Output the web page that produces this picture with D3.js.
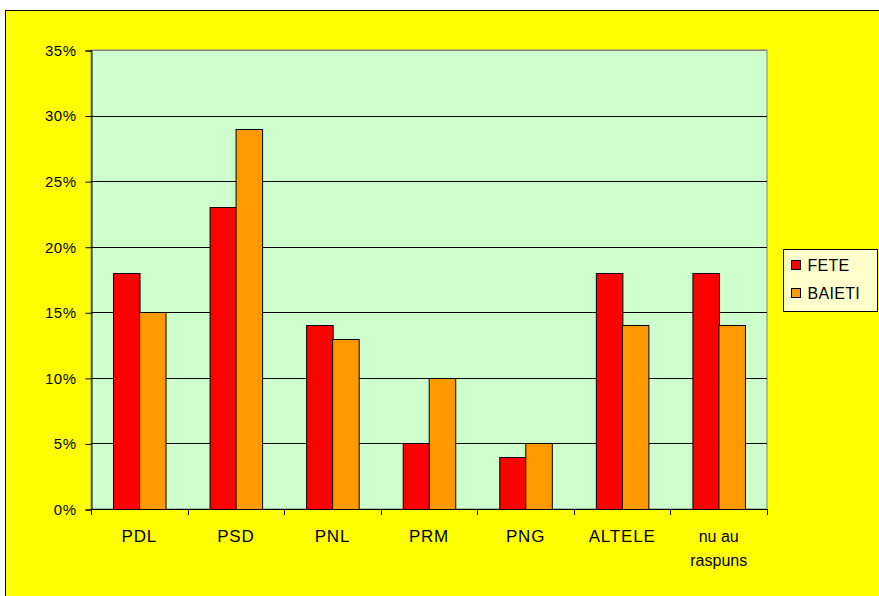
<!DOCTYPE html>
<html>
<head>
<meta charset="utf-8">
<script src="https://cdn.jsdelivr.net/npm/d3@7"></script>
<style>
  body { margin: 0; background: #fff; }
  svg { display: block; font-family: Arial, "Liberation Sans", sans-serif; }
</style>
</head>
<body>
<div id="chart"></div>
<script>
// data
const categories = ['PDL', 'PSD', 'PNL', 'PRM', 'PNG', 'ALTELE', 'nu au raspuns']
const fete = [18, 23, 14, 5, 4, 18, 18]
const baieti = [15, 29, 13, 10, 5, 14, 14]
const seriesNames = ['FETE', 'BAIETI']
const yTicks = [0, 5, 10, 15, 20, 25, 30, 35]

const colors = ['#FF0000', '#FF9900']
const W = 879, H = 596
const m = { left: 91, top: 50, right: 767, bottom: 509 }

const svg = d3.select('#chart').append('svg')
  .attr('width', W)
  .attr('height', H)

// chart frame
svg.append('rect')
  .attr('x', 5.5).attr('y', 10.5)
  .attr('width', W + 10).attr('height', H + 10)
  .attr('fill', '#FFFF00')
  .attr('stroke', '#000')

const x = d3.scaleBand().domain(categories).range([m.left, m.right])
const x1 = d3.scaleBand().domain(seriesNames).range([0, x.bandwidth()]).paddingOuter(0.82)
const y = d3.scaleLinear().domain([0, 35]).range([m.bottom, m.top])

// plot area
svg.append('rect')
  .attr('x', m.left).attr('y', m.top)
  .attr('width', m.right - m.left).attr('height', m.bottom - m.top)
  .attr('fill', '#CCFFCC')
  .attr('stroke', '#808080')

// grid lines
svg.append('g').selectAll('line')
  .data(yTicks.filter(d => d > 0))
  .enter().append('line')
  .attr('x1', m.left).attr('x2', m.right)
  .attr('y1', d => Math.round(y(d)) + 0.5)
  .attr('y2', d => Math.round(y(d)) + 0.5)
  .attr('stroke', d => d === 35 ? '#808080' : '#000')

// bars
const rows = categories.map((c, i) => ({ cat: c, vals: [fete[i], baieti[i]] }))
const groups = svg.append('g').selectAll('g')
  .data(rows)
  .enter().append('g')
  .attr('transform', d => 'translate(' + x(d.cat) + ',0)')

groups.selectAll('rect')
  .data(d => d.vals.map((v, i) => ({ name: seriesNames[i], v: v, i: i })))
  .enter().append('rect')
  .attr('x', d => Math.round(x1(d.name)) + 0.5)
  .attr('y', d => Math.round(y(d.v)) + 0.5)
  .attr('width', x1.bandwidth())
  .attr('height', d => m.bottom - Math.round(y(d.v)))
  .attr('fill', d => colors[d.i])
  .attr('stroke', '#000')
  .attr('stroke-width', 1)

// y axis
const yAxis = d3.axisLeft(y)
  .tickValues(yTicks)
  .tickSize(6)
  .tickPadding(9)
  .tickFormat(d => d + '%')
const gy = svg.append('g')
  .attr('transform', 'translate(' + (m.left + 0.5) + ',0.5)')
  .call(yAxis)
gy.select('.domain').attr('stroke', '#000')
gy.selectAll('text').attr('font-size', 15).attr('fill', '#000').attr('letter-spacing', 0.5)

// x axis line + ticks at category edges
const gx = svg.append('g')
gx.append('line')
  .attr('x1', m.left).attr('x2', m.right)
  .attr('y1', m.bottom + 0.5).attr('y2', m.bottom + 0.5)
  .attr('stroke', '#000')
gx.selectAll('.tk')
  .data(categories.concat(['end']))
  .enter().append('line')
  .attr('x1', (d, i) => Math.round(m.left + i * x.step()) + 0.5)
  .attr('x2', (d, i) => Math.round(m.left + i * x.step()) + 0.5)
  .attr('y1', m.bottom)
  .attr('y2', m.bottom + 6)
  .attr('stroke', '#000')

gx.selectAll('text')
  .data(categories)
  .enter().append('text')
  .attr('x', d => x(d) + x.bandwidth() / 2)
  .attr('y', 542)
  .attr('text-anchor', 'middle')
  .attr('font-size', 17)
  .each(function (d) {
    const words = d === 'nu au raspuns' ? ['nu au', 'raspuns'] : [d]
    d3.select(this).attr('letter-spacing', words.length > 1 ? 0 : 0.8)
      .attr('font-size', words.length > 1 ? 16 : 17)
    words.forEach((w, k) => {
      d3.select(this).append('tspan')
        .attr('x', x(d) + x.bandwidth() / 2)
        .attr('dy', k === 0 ? 0 : 24)
        .text(w)
    })
  })

// legend
const lg = svg.append('g').attr('transform', 'translate(783.5,249.5)')
lg.append('rect')
  .attr('width', 94).attr('height', 62)
  .attr('fill', '#FFFFCC')
  .attr('stroke', '#000')
seriesNames.forEach((s, i) => {
  lg.append('rect')
    .attr('x', 8).attr('y', 11 + i * 28)
    .attr('width', 9).attr('height', 9)
    .attr('fill', colors[i])
    .attr('stroke', '#000')
  lg.append('text')
    .attr('x', 24).attr('y', 21 + i * 28)
    .attr('font-size', 16)
    .attr('letter-spacing', 0.3)
    .text(s)
})
</script>
</body>
</html>
